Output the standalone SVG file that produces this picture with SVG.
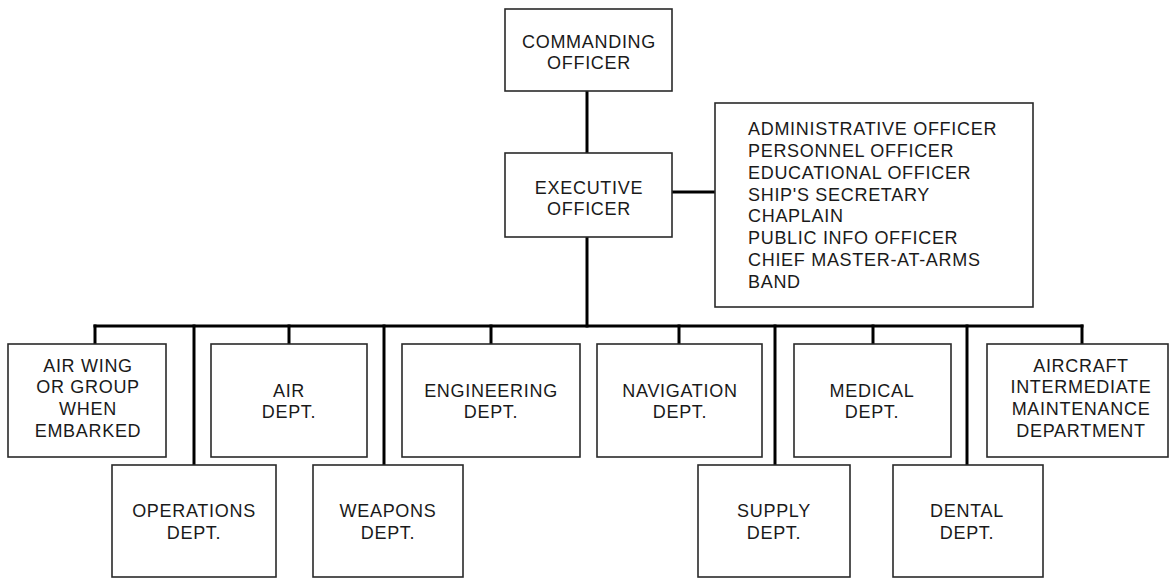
<svg xmlns="http://www.w3.org/2000/svg" width="1171" height="578" viewBox="0 0 1171 578">
  <style>
    .box { fill: #ffffff; stroke: #2a2a2a; stroke-width: 1.6; }
    .wire { fill: none; stroke: #000000; stroke-width: 3; stroke-linecap: square; }
    text { font-family: "Liberation Sans", Arial, sans-serif; font-size: 18px; fill: #1a1a1a; letter-spacing: 0.7px; }
    .c { text-anchor: middle; }
  </style>
  <rect width="1171" height="578" fill="#ffffff"/>

  <!-- connectors -->
  <g id="connectors">
    <line class="wire" x1="587" y1="91" x2="587" y2="153"/>
    <line class="wire" x1="672" y1="192" x2="715" y2="192"/>
    <line class="wire" x1="587" y1="237" x2="587" y2="326"/>
    <line class="wire" x1="95" y1="326" x2="1082" y2="326"/>
    <line class="wire" x1="95" y1="326" x2="95" y2="344"/>
    <line class="wire" x1="194" y1="326" x2="194" y2="465"/>
    <line class="wire" x1="289" y1="326" x2="289" y2="344"/>
    <line class="wire" x1="384" y1="326" x2="384" y2="465"/>
    <line class="wire" x1="491" y1="326" x2="491" y2="344"/>
    <line class="wire" x1="679" y1="326" x2="679" y2="344"/>
    <line class="wire" x1="775" y1="326" x2="775" y2="465"/>
    <line class="wire" x1="873" y1="326" x2="873" y2="344"/>
    <line class="wire" x1="967" y1="326" x2="967" y2="465"/>
    <line class="wire" x1="1082" y1="326" x2="1082" y2="344"/>
  </g>

  <g id="commanding-officer">
    <rect class="box" x="505" y="9" width="167" height="82"/>
    <text class="c" x="589" y="48">COMMANDING</text>
    <text class="c" x="589" y="69">OFFICER</text>
  </g>

  <g id="executive-officer">
    <rect class="box" x="505" y="153" width="167" height="84"/>
    <text class="c" x="589" y="194">EXECUTIVE</text>
    <text class="c" x="589" y="215">OFFICER</text>
  </g>

  <g id="staff">
    <rect class="box" x="715" y="103" width="318" height="204"/>
    <text x="748" y="135">ADMINISTRATIVE OFFICER</text>
    <text x="748" y="157">PERSONNEL OFFICER</text>
    <text x="748" y="179">EDUCATIONAL OFFICER</text>
    <text x="748" y="200.5">SHIP'S SECRETARY</text>
    <text x="748" y="222">CHAPLAIN</text>
    <text x="748" y="244">PUBLIC INFO OFFICER</text>
    <text x="748" y="266">CHIEF MASTER-AT-ARMS</text>
    <text x="748" y="287.5">BAND</text>
  </g>

  <g id="air-wing">
    <rect class="box" x="8" y="344" width="158" height="113"/>
    <text class="c" x="88" y="372">AIR WING</text>
    <text class="c" x="88" y="393">OR GROUP</text>
    <text class="c" x="88" y="415">WHEN</text>
    <text class="c" x="88" y="437">EMBARKED</text>
  </g>

  <g id="air-dept">
    <rect class="box" x="211" y="344" width="156" height="113"/>
    <text class="c" x="289" y="397">AIR</text>
    <text class="c" x="289" y="418">DEPT.</text>
  </g>

  <g id="engineering-dept">
    <rect class="box" x="402" y="344" width="178" height="113"/>
    <text class="c" x="491" y="397">ENGINEERING</text>
    <text class="c" x="491" y="418">DEPT.</text>
  </g>

  <g id="navigation-dept">
    <rect class="box" x="597" y="344" width="165" height="113"/>
    <text class="c" x="680" y="397">NAVIGATION</text>
    <text class="c" x="680" y="418">DEPT.</text>
  </g>

  <g id="medical-dept">
    <rect class="box" x="794" y="344" width="157" height="113"/>
    <text class="c" x="872" y="397">MEDICAL</text>
    <text class="c" x="872" y="418">DEPT.</text>
  </g>

  <g id="aimd">
    <rect class="box" x="987" y="344" width="181" height="113"/>
    <text class="c" x="1081" y="372">AIRCRAFT</text>
    <text class="c" x="1081" y="393">INTERMEDIATE</text>
    <text class="c" x="1081" y="415">MAINTENANCE</text>
    <text class="c" x="1081" y="437">DEPARTMENT</text>
  </g>

  <g id="operations-dept">
    <rect class="box" x="112" y="465" width="164" height="112"/>
    <text class="c" x="194" y="517">OPERATIONS</text>
    <text class="c" x="194" y="539">DEPT.</text>
  </g>

  <g id="weapons-dept">
    <rect class="box" x="313" y="465" width="150" height="112"/>
    <text class="c" x="388" y="517">WEAPONS</text>
    <text class="c" x="388" y="539">DEPT.</text>
  </g>

  <g id="supply-dept">
    <rect class="box" x="698" y="465" width="152" height="112"/>
    <text class="c" x="774" y="517">SUPPLY</text>
    <text class="c" x="774" y="539">DEPT.</text>
  </g>

  <g id="dental-dept">
    <rect class="box" x="893" y="465" width="150" height="112"/>
    <text class="c" x="967" y="517">DENTAL</text>
    <text class="c" x="967" y="539">DEPT.</text>
  </g>
</svg>
